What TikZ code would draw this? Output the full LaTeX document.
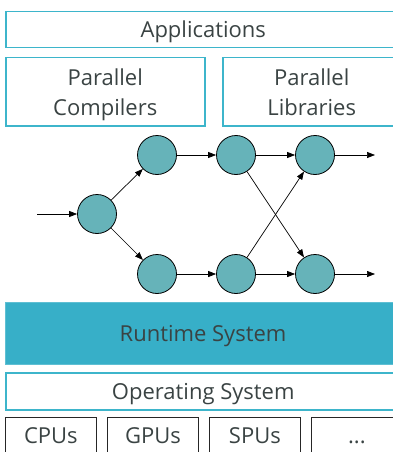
\documentclass[tikz,border=0pt]{standalone}
\usepackage{fontspec}
\setmainfont{Open Sans}
\usetikzlibrary{arrows.meta}
\usepackage{xcolor}
\definecolor{layercyan}{HTML}{3DB5CB}
\definecolor{runtimefill}{HTML}{37AFC8}
\definecolor{taskfill}{HTML}{66B3B9}
\definecolor{labelgray}{HTML}{3A4343}

\begin{document}
\begin{tikzpicture} [x=1pt, y=-1pt,
  layer/.style={draw=layercyan, line width=1.5pt, rectangle, anchor=north west, inner sep=0pt,
    text=labelgray, font=\fontsize{22}{30}\selectfont, align=center},
  hw/.style={draw=black!85, line width=0.8pt, rectangle, anchor=north west, inner sep=0pt,
    text=labelgray, font=\fontsize{22}{30}\selectfont, text height=16pt, text depth=0pt},
  task/.style={circle, draw=black, line width=0.8pt, fill=taskfill, minimum size=39pt, inner sep=0pt},
  >={Triangle[length=8pt, width=6pt]}]
\useasboundingbox (0,0) rectangle (393,452);

\node[layer, minimum width=395pt, minimum height=36pt, text height=16pt, text depth=0pt] (apps) at (5,11) {Applications};
\node[layer, minimum width=199pt, minimum height=68pt, text depth=0pt] (comp) at (5,57) {Parallel\\Compilers};
\node[layer, minimum width=178pt, minimum height=68pt, text depth=0pt] (libs) at (222,57) {Parallel\\Libraries};

\node[task] (n0) at (97,214) {};
\node[task] (t1) at (157,155) {};
\node[task] (t2) at (236,155) {};
\node[task] (t3) at (315,155) {};
\node[task] (b1) at (157,274) {};
\node[task] (b2) at (236,274) {};
\node[task] (b3) at (315,274) {};
\coordinate (in) at (37,214);
\coordinate (outt) at (375,155);
\coordinate (outb) at (375,274);

\draw[->, line width=0.7pt] (in) -- (n0);
\draw[->, line width=0.7pt] (n0) -- (t1);
\draw[->, line width=0.7pt] (n0) -- (b1);
\draw[->, line width=0.7pt] (t1) -- (t2);
\draw[->, line width=0.7pt] (t2) -- (t3);
\draw[->, line width=0.7pt] (b1) -- (b2);
\draw[->, line width=0.7pt] (b2) -- (b3);
\draw[->, line width=0.7pt] (t2) -- (b3);
\draw[->, line width=0.7pt] (b2) -- (t3);
\draw[->, line width=0.7pt] (t3) -- (outt);
\draw[->, line width=0.7pt] (b3) -- (outb);

\node[layer, fill=runtimefill, draw=runtimefill!80!white, line width=1pt, minimum width=395pt, minimum height=62pt, text height=16pt, text depth=0pt] (rts) at (5,302) {Runtime System};
\node[layer, minimum width=395pt, minimum height=37pt, text height=16pt, text depth=0pt] (os) at (5,372) {Operating System};

\node[hw, minimum width=91pt, minimum height=37pt] (cpu) at (5,417) {CPUs};
\node[hw, minimum width=91pt, minimum height=37pt] (gpu) at (107,417) {GPUs};
\node[hw, minimum width=91pt, minimum height=37pt] (spu) at (209,417) {SPUs};
\node[hw, minimum width=91pt, minimum height=37pt] (more) at (311,417) {...};
\end{tikzpicture}
\end{document}
